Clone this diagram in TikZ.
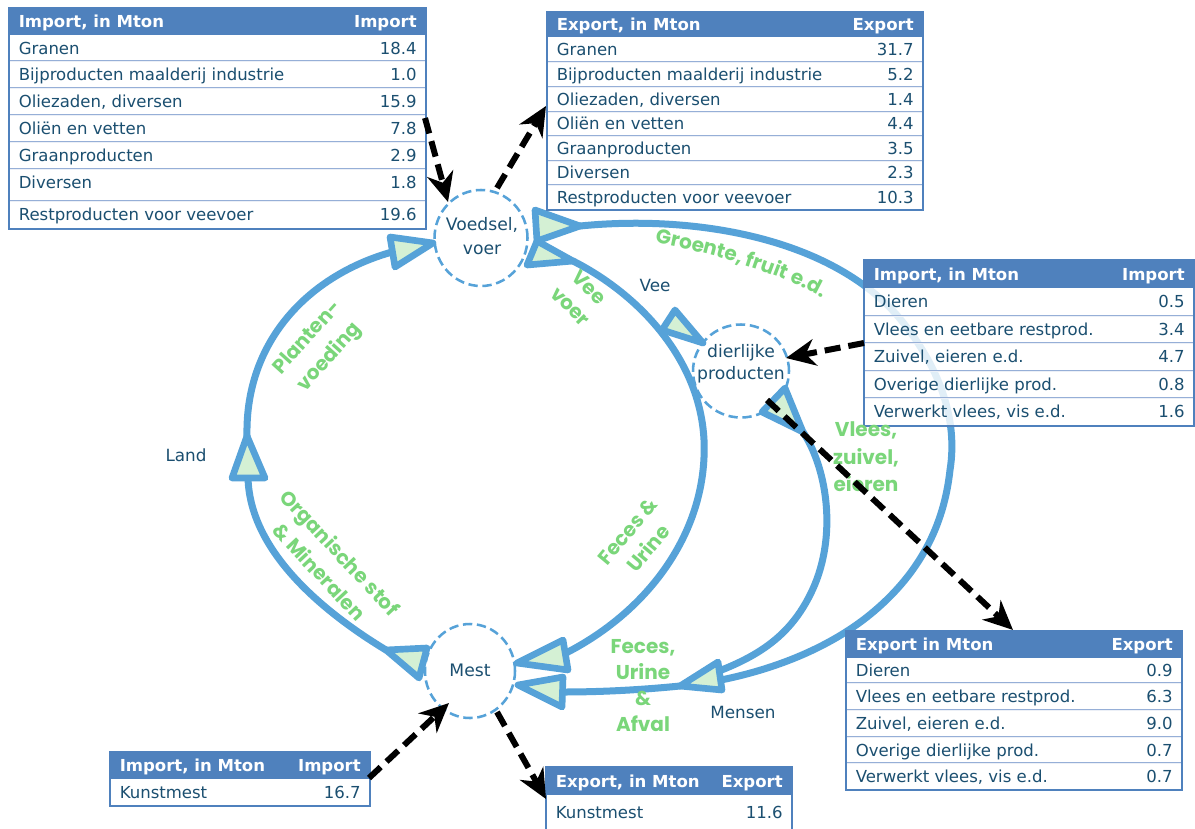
\documentclass[tikz,border=0pt]{standalone}
\usepackage{fontspec}
\setmainfont{DejaVu Sans}
\newfontfamily\lblfont{Poppins}
\usetikzlibrary{arrows.meta,shapes.geometric,decorations.text}
\definecolor{hdrblue}{RGB}{79,129,189}
\definecolor{rowline}{RGB}{150,175,215}
\definecolor{tbltxt}{RGB}{27,79,112}
\definecolor{flowblue}{RGB}{86,162,216}
\definecolor{trifill}{RGB}{212,240,212}
\definecolor{lblgreen}{RGB}{122,214,122}
\newcommand{\tabhead}[7]{%
  \fill[hdrblue] (#2,#4) rectangle (#3,#5);
  \node[hdrtxt, anchor=base west] (#1l) at (#2+9.5,{(#4+#5)/2+6}) {#6};
  \node[hdrtxt, anchor=base east] (#1v) at (#3-9,{(#4+#5)/2+6}) {#7};
}
\newcommand{\tabrow}[8]{%
  \fill[white, fill opacity=0.82] (#2,#4) rectangle (#3,#5);
  \draw[rowsep] (#2,#5) -- (#3,#5);
  \node[celltxt, anchor=base west] (#1l) at (#2+9.5,#6+6) {#7};
  \node[celltxt, anchor=base east] (#1v) at (#3-9,#6+6) {#8};
}
\begin{document}
\begin{tikzpicture}[x=0.75pt,y=-0.75pt,
  hdrtxt/.style={font=\bfseries\fontsize{12.4}{15}\selectfont, text=white, inner sep=0pt},
  celltxt/.style={font=\fontsize{12.4}{15}\selectfont, text=tbltxt, inner sep=0pt},
  rowsep/.style={draw=rowline, line width=1.4pt},
  tblframe/.style={draw=hdrblue, line width=1.4pt},
  bubble/.style={ellipse, draw=flowblue, line width=1.9pt, dash pattern=on 7pt off 3.5pt, fill=white, inner sep=0pt},
  bubtxt/.style={font=\fontsize{12.9}{18}\selectfont, text=tbltxt, align=center, inner sep=0pt},
  flow/.style={draw=flowblue, line width=5.25pt, line cap=round},
  tri/.style={draw=flowblue, fill=trifill, line width=5pt, line join=round},
  glabel/.style={font=\lblfont\bfseries\fontsize{15}{20.5}\selectfont, text=lblgreen, align=center, inner sep=0pt},
  plain/.style={font=\fontsize{12.6}{15}\selectfont, text=tbltxt, inner sep=0pt},
  blackdash/.style={draw=black, line width=4.5pt, dash pattern=on 12pt off 6pt, -{Stealth[length=22pt,width=20pt,inset=7pt]}}
]
\useasboundingbox (0,0) rectangle (1195,828);
\clip (0,0) rectangle (1195,828);
\fill[white] (0,0) rectangle (1195,828);

% ---- circles
\node[bubble, minimum width=69.75pt, minimum height=72pt] (voed) at (481,238) {};
\node[bubble, minimum width=72pt, minimum height=69.75pt] (dier) at (741,371) {};
\node[bubble, minimum width=67.5pt, minimum height=70.5pt] (mest) at (470,671) {};
\node[bubtxt] (voedT) at (482,236) {Voedsel,\\voer};
\node[bubtxt, font=\fontsize{12.9}{16.5}\selectfont] (dierT) at (741,364) {dierlijke\\producten};
\node[bubtxt] (mestT) at (470,670) {Mest};

% ---- coordinates of flow ends
\coordinate (mlA) at (386,650);   % Mest left triangle apex
\coordinate (laB) at (248,478);   % Land triangle base
\coordinate (laA) at (247,436);   % Land triangle apex
\coordinate (vlB) at (392,252);   % Voedsel left triangle base
\coordinate (vuA) at (580,226);   % Voedsel upper triangle apex
\coordinate (vdA) at (573,261);   % Voedsel lower triangle apex
\coordinate (dpA) at (803,432);   % dierlijke triangle apex
\coordinate (meB1) at (721,680);  % Mensen triangle base
\coordinate (meB2) at (719,671);
\coordinate (meA) at (680,686);   % Mensen triangle apex
\coordinate (muB) at (566,653);   % Mest upper triangle base
\coordinate (mdB) at (563,692);   % Mest lower triangle base

% ---- flows
\draw[flow] (mlA) .. controls (320,610) and (250,550) .. (laB);
\draw[flow] (laA) .. controls (245,340) and (310,275) .. (vlB);
\draw[flow] (vuA) .. controls (700,214) and (840,240) .. (905,325)
   .. controls (940,370) and (958,420) .. (950,470)
   .. controls (944,525) and (920,575) .. (867,617)
   .. controls (830,646) and (780,668) .. (meB1);
\draw[flow] (dpA) .. controls (828,470) and (838,540) .. (810,595)
   .. controls (790,635) and (760,655) .. (meB2);
\draw[flow] (meA) .. controls (640,690) and (600,692) .. (mdB);
\draw[flow] (vdA) .. controls (640,295) and (700,360) .. (704,440)
   .. controls (708,530) and (650,610) .. (muB);

% ---- triangle markers
\draw[tri] (390,237) -- (433,243) -- (395,267) -- cycle;
\draw[tri] (535,210) -- (580,226) -- (537,241) -- cycle;
\draw[tri] (537,241) -- (573,261) -- (527,265) -- cycle;
\draw[tri] (675,310) -- (703,343) -- (662,330) -- cycle;
\draw[tri] (785,388) -- (803,432) -- (762,412) -- cycle;
\draw[tri] (247,436) -- (265,478) -- (232,478) -- cycle;
\draw[tri] (386,650) -- (427,648) -- (419,678) -- cycle;
\draw[tri] (517,663) -- (563,640) -- (568,670) -- cycle;
\draw[tri] (518,685) -- (563,677) -- (562,707) -- cycle;
\draw[tri] (680,686) -- (718,662) -- (722,690) -- cycle;

% ---- table 1: import voedsel
\tabhead{t1h}{9}{426}{8}{35}{Import, in Mton}{Import}
\tabrow{t1a}{9}{426}{35}{61}{48}{Granen}{18.4}
\tabrow{t1b}{9}{426}{61}{88}{74.5}{Bijproducten maalderij industrie}{1.0}
\tabrow{t1c}{9}{426}{88}{115}{101.5}{Oliezaden, diversen}{15.9}
\tabrow{t1d}{9}{426}{115}{142}{128.5}{Oliën en vetten}{7.8}
\tabrow{t1e}{9}{426}{142}{169}{155.5}{Graanproducten}{2.9}
\tabrow{t1f}{9}{426}{169}{201}{182.5}{Diversen}{1.8}
\tabrow{t1g}{9}{426}{201}{229}{214}{Restproducten voor veevoer}{19.6}
\draw[tblframe] (9,8) rectangle (426,229);

% ---- table 2: export voedsel
\tabhead{t2h}{547}{923}{12}{37}{Export, in Mton}{Export}
\tabrow{t2a}{547}{923}{37}{62}{49}{Granen}{31.7}
\tabrow{t2b}{547}{923}{62}{87}{74}{Bijproducten maalderij industrie}{5.2}
\tabrow{t2c}{547}{923}{87}{112}{99}{Oliezaden, diversen}{1.4}
\tabrow{t2d}{547}{923}{112}{136}{123.5}{Oliën en vetten}{4.4}
\tabrow{t2e}{547}{923}{136}{161}{148}{Graanproducten}{3.5}
\tabrow{t2f}{547}{923}{161}{185}{172.5}{Diversen}{2.3}
\tabrow{t2g}{547}{923}{185}{210}{197}{Restproducten voor veevoer}{10.3}
\draw[tblframe] (547,12) rectangle (923,210);

% ---- table 3: import dierlijk
\tabhead{t3h}{864}{1194}{260}{288}{Import, in Mton}{Import}
\tabrow{t3a}{864}{1194}{288}{316}{301.5}{Dieren}{0.5}
\tabrow{t3b}{864}{1194}{316}{343}{329}{Vlees en eetbare restprod.}{3.4}
\tabrow{t3c}{864}{1194}{343}{371}{356.5}{Zuivel, eieren e.d.}{4.7}
\tabrow{t3d}{864}{1194}{371}{398}{384}{Overige dierlijke prod.}{0.8}
\tabrow{t3e}{864}{1194}{398}{426}{411.5}{Verwerkt vlees, vis e.d.}{1.6}
\draw[tblframe] (864,260) rectangle (1194,426);

% ---- table 4: export dierlijk
\tabhead{t4h}{846}{1182}{631}{658}{Export in Mton}{Export}
\tabrow{t4a}{846}{1182}{658}{683}{670}{Dieren}{0.9}
\tabrow{t4b}{846}{1182}{683}{710}{696}{Vlees en eetbare restprod.}{6.3}
\tabrow{t4c}{846}{1182}{710}{737}{723}{Zuivel, eieren e.d.}{9.0}
\tabrow{t4d}{846}{1182}{737}{763}{750}{Overige dierlijke prod.}{0.7}
\tabrow{t4e}{846}{1182}{763}{790}{776.5}{Verwerkt vlees, vis e.d.}{0.7}
\draw[tblframe] (846,631) rectangle (1182,790);

% ---- table 5: import kunstmest
\tabhead{t5h}{110}{370}{752}{779}{Import, in Mton}{Import}
\tabrow{t5a}{110}{370}{779}{806}{792}{Kunstmest}{16.7}
\draw[tblframe] (110,752) rectangle (370,806);

% ---- table 6: export kunstmest
\tabhead{t6h}{546}{792}{767}{795}{Export, in Mton}{Export}
\tabrow{t6a}{546}{792}{795}{850}{812}{Kunstmest}{11.6}
\draw[tblframe] (546,767) rectangle (792,850);

% ---- green flow labels
\path[decorate, decoration={text along path, text align=center, text color=lblgreen,
   text={|\lblfont\bfseries\fontsize{15}{15}\selectfont|Groente, fruit e.d.}}]
   (651,242) .. controls (700,250) and (780,272) .. (826,300);
\node[glabel, rotate=-45, font=\lblfont\bfseries\fontsize{15}{20}\selectfont] (gVee) at (580,297) {Vee\\voer};
\node[glabel, rotate=48, font=\lblfont\bfseries\fontsize{15}{22}\selectfont] (gPlant) at (319,348) {Planten-\\voeding};
\node[glabel, rotate=-47, font=\lblfont\bfseries\fontsize{15}{21}\selectfont] (gOrg) at (330,562) {Organische stof\\\& Mineralen};
\node[glabel, rotate=50, font=\lblfont\bfseries\fontsize{15}{20}\selectfont] (gFU) at (638,540) {Feces \&\\Urine};
\node[glabel, font=\lblfont\bfseries\fontsize{15}{19.5}\selectfont] (gFUA) at (643,686) {Feces,\\Urine\\\&\\Afval};
\node[glabel] (gVlees) at (866,457) {Vlees,\\zuivel,\\eieren};

% ---- plain labels
\node[plain] (land) at (186,455) {Land};
\node[plain] (vee) at (655,285) {Vee};
\node[plain] (mensen) at (743,712) {Mensen};

% ---- dashed import/export arrows
\coordinate (d1s) at (425,118); \coordinate (d1e) at (448,202);
\coordinate (d2s) at (497,188); \coordinate (d2e) at (546,106);
\coordinate (d3s) at (864,343); \coordinate (d3e) at (786,358);
\coordinate (d4s) at (767,400); \coordinate (d4e) at (1013,630);
\coordinate (d5s) at (369,778); \coordinate (d5e) at (449,703);
\coordinate (d6s) at (497,712); \coordinate (d6e) at (546,799);
\draw[blackdash] (d1s) -- (d1e);
\draw[blackdash] (d2s) -- (d2e);
\draw[blackdash] (d3s) -- (d3e);
\draw[blackdash] (d4s) -- (d4e);
\draw[blackdash] (d5s) -- (d5e);
\draw[blackdash] (d6s) -- (d6e);
\end{tikzpicture}
\end{document}
